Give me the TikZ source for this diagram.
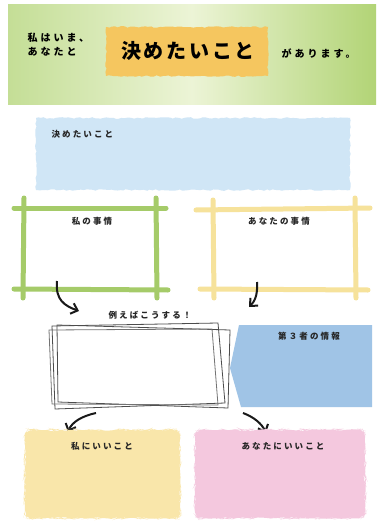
\documentclass[tikz,border=0pt]{standalone}
\usepackage{fontspec}
\newfontfamily\jp{Noto Sans CJK JP}
\usetikzlibrary{arrows.meta,decorations.pathmorphing,shapes.geometric}
\definecolor{bangreen}{RGB}{196,222,150}
\definecolor{banright}{RGB}{178,212,118}
\definecolor{banlight}{RGB}{236,244,214}
\definecolor{hiorange}{RGB}{245,198,95}
\definecolor{paleblue}{RGB}{208,230,246}
\definecolor{framegreen}{RGB}{165,203,105}
\definecolor{frameyellow}{RGB}{246,226,155}
\definecolor{pentblue}{RGB}{160,196,230}
\definecolor{paleyellow}{RGB}{249,230,170}
\definecolor{palepink}{RGB}{244,200,222}
\tikzset{
  lbl/.style={font=\jp\bfseries\fontsize{8.5}{9}\selectfont\addfontfeature{LetterSpace=25}, text=black!85},
  wash/.style={decorate, decoration={random steps, segment length=3pt, amplitude=0.8pt}},
  framebar/.style={line width=5pt, line cap=round},
  flowarrow/.style={line width=2pt, -{Straight Barb[length=6pt,width=11pt,line width=2pt]}, black!90},
  sketch/.style={draw=black!70, line width=0.8pt}
}
\begin{document}
\begin{tikzpicture}[x=1pt,y=-1pt]
\useasboundingbox (0,0) rectangle (382,524);
\fill[white] (0,0) rectangle (382,524);
% banner
\shade[left color=bangreen, right color=banright, middle color=banlight] (8,5) rectangle (376,105);
\fill[hiorange, wash] (106,27) rectangle (268,76);
\node[font=\jp\bfseries\fontsize{10}{14}\selectfont\addfontfeature{LetterSpace=30}, align=left, anchor=west] (intro) at (24,45) {私はいま、\\あなたと};
\node[font=\jp\bfseries\fontsize{20}{22}\selectfont\addfontfeature{LetterSpace=14}] (theme) at (188,51) {決めたいこと};
\node[font=\jp\bfseries\fontsize{10}{12}\selectfont\addfontfeature{LetterSpace=30}, anchor=west] (outro) at (278,54) {があります。};
% blue box
\fill[paleblue, wash] (36,118) rectangle (350,190);
\node[lbl, anchor=west] (decide) at (48,134) {決めたいこと};
% green frame
\draw[framegreen, framebar] (14,208) -- (166,208);
\draw[framegreen, framebar] (14,289) -- (168,290);
\draw[framegreen, framebar] (24,198) -- (23,298);
\draw[framegreen, framebar] (156,198) -- (157,298);
\node[lbl] (mine) at (92,221) {私の事情};
% yellow frame
\draw[frameyellow, framebar] (196,210) -- (370,208);
\draw[frameyellow, framebar] (200,289) -- (368,290);
\draw[frameyellow, framebar] (213,200) -- (214,298);
\draw[frameyellow, framebar] (355,198) -- (356,298);
\node[lbl] (yours) at (279,221) {あなたの事情};
% arrows top
\coordinate (a1s) at (57,281);
\coordinate (a1e) at (79,311);
\coordinate (a2s) at (257,282);
\coordinate (a2e) at (249,307);
\draw[flowarrow] (a1s) .. controls (55,300) and (65,306) .. (a1e);
\draw[flowarrow] (a2s) .. controls (258,296) and (254,302) .. (a2e);
\node[lbl] (example) at (150,315) {例えばこうする！};
% sketch box
\node[minimum width=170pt, minimum height=78pt] (plan) at (140,365) {};
\draw[sketch] (52,326) -- (218,323) -- (225,403) -- (55,409) -- cycle;
\draw[sketch] (57,325) -- (230,330) -- (228,408) -- (58,402) -- cycle;
\draw[sketch, black!55] (49,330) -- (212,329) -- (218,405) -- (52,404) -- cycle;
% pentagon
\fill[pentblue] (230,368) -- (239,325) -- (372,325) -- (372,407) -- (241,407) -- cycle;
\node[lbl] (third) at (309,336) {第３者の情報};
% arrows bottom
\coordinate (b1s) at (96,413);
\coordinate (b1e) at (68,432);
\coordinate (b2s) at (243,413);
\coordinate (b2e) at (266,433);
\draw[flowarrow] (b1s) .. controls (82,416) and (72,422) .. (b1e);
\draw[flowarrow] (b2s) .. controls (254,417) and (262,424) .. (b2e);
% bottom boxes
\fill[paleyellow, wash, rounded corners=6pt] (25,430) rectangle (180,518);
\node[lbl] (goodme) at (102,446) {私にいいこと};
\fill[palepink, wash, rounded corners=6pt] (195,430) rectangle (365,518);
\node[lbl] (goodyou) at (283,446) {あなたにいいこと};
\end{tikzpicture}
\end{document}
